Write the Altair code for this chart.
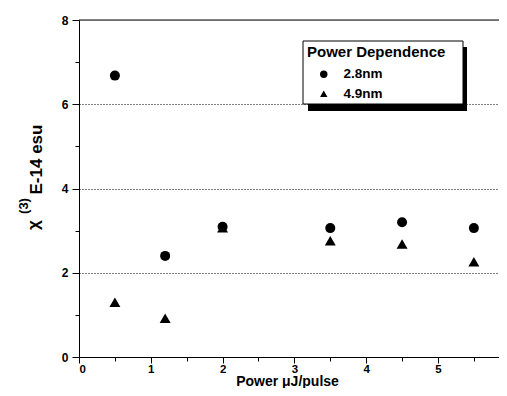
import altair as alt
import pandas as pd

# Data
power = [0.5, 1.2, 2.0, 3.5, 4.5, 5.5]
chi_28 = [6.68, 2.40, 3.09, 3.06, 3.20, 3.06]
chi_49 = [1.30, 0.92, 3.07, 2.76, 2.68, 2.26]
series = ["2.8nm", "4.9nm"]
x_ticks = [0, 0.5, 1, 1.5, 2, 2.5, 3, 3.5, 4, 4.5, 5, 5.5]
y_ticks = [0, 1, 2, 3, 4, 5, 6, 7, 8]

df = pd.DataFrame({
    "power": power + power,
    "chi": chi_28 + chi_49,
    "series": [series[0]] * len(power) + [series[1]] * len(power),
})

FONT = "Liberation Sans"
W, H = 420, 337

x_axis = alt.Axis(
    values=x_ticks,
    labelExpr="datum.value % 1 === 0 ? format(datum.value, 'd') : ''",
    tickSize={"condition": {"test": "datum.value % 1 === 0", "value": 6}, "value": 4},
    grid=False,
    title="Power μJ/pulse",
    titleFont=FONT, titleFontSize=14, titleFontWeight="bold", titleColor="black",
    titleX=208, titleY=28.5, titleBaseline="alphabetic",
    labelFont=FONT, labelFontSize=11.5, labelFontWeight="bold", labelColor="black",
    labelPadding=0,
    domainColor="black", tickColor="black",
)

y_axis = alt.Axis(
    values=y_ticks,
    labelExpr="datum.value % 2 === 0 ? format(datum.value, 'd') : ''",
    tickSize={"condition": {"test": "datum.value % 2 === 0", "value": 7}, "value": 4},
    grid=True,
    gridColor="black",
    gridDash=[1, 2],
    gridOpacity={"condition": {"test": "datum.value > 0 && datum.value < 8 && datum.value % 2 === 0", "value": 1}, "value": 0},
    title="",
    labelFont=FONT, labelFontSize=12, labelFontWeight="bold", labelColor="black",
    labelPadding=4,
    domainColor="black", tickColor="black",
)

one = pd.DataFrame({"a": [0]})

top_line = alt.Chart(one).mark_rule(color="black", strokeWidth=1).encode(
    x=alt.value(0), x2=alt.value(W), y=alt.value(0)
)
shadow = alt.Chart(one).mark_rect(color="black").encode(
    x=alt.value(229), x2=alt.value(388), y=alt.value(27), y2=alt.value(91)
)
box = alt.Chart(one).mark_rect(fill="white", stroke="black", strokeWidth=1).encode(
    x=alt.value(224), x2=alt.value(384), y=alt.value(21), y2=alt.value(84)
)

points = alt.Chart(df).mark_point(filled=True, color="black", opacity=1).encode(
    x=alt.X("power:Q", scale=alt.Scale(domain=[0, 5.85], nice=False, zero=False), axis=x_axis),
    y=alt.Y("chi:Q", scale=alt.Scale(domain=[0, 8], nice=False), axis=y_axis),
    shape=alt.Shape(
        "series:N",
        scale=alt.Scale(domain=series, range=["circle", "triangle-up"]),
        legend=alt.Legend(
            title="Power Dependence",
            orient="none", legendX=228, legendY=24.5,
            titleFont=FONT, titleFontSize=15, titleFontWeight="bold", titleColor="black",
            titlePadding=8,
            labelFont=FONT, labelFontSize=13.5, labelFontWeight="bold", labelColor="black",
            symbolSize=55, symbolFillColor="black", symbolStrokeColor="black",
            symbolOffset=10, labelOffset=13, rowPadding=4.5, padding=0,
        ),
    ),
    size=alt.condition("datum.series === '2.8nm'", alt.value(100), alt.value(120)),
)

chi_txt = alt.Chart(one).mark_text(
    text="χ", font=FONT, fontSize=17, fontWeight="bold", angle=270,
    align="center", baseline="middle", color="black"
).encode(x=alt.value(-45), y=alt.value(205))
sup_txt = alt.Chart(one).mark_text(
    text="(3)", font=FONT, fontSize=13, fontWeight="bold", angle=270,
    align="center", baseline="middle", color="black"
).encode(x=alt.value(-55), y=alt.value(186))
unit_txt = alt.Chart(one).mark_text(
    text="E-14 esu", font=FONT, fontSize=17, fontWeight="bold", angle=270,
    align="center", baseline="middle", color="black"
).encode(x=alt.value(-42.5), y=alt.value(139.5))

chart = alt.layer(top_line, shadow, box, points, chi_txt, sup_txt, unit_txt).properties(
    width=W, height=H,
    autosize=alt.AutoSizeParams(type="none"),
    padding={"left": 71, "top": 12, "right": 0, "bottom": 31},
).configure_view(strokeWidth=0).configure(background="white")

chart.save("out.html", embed_options={"renderer": "svg", "actions": False})
